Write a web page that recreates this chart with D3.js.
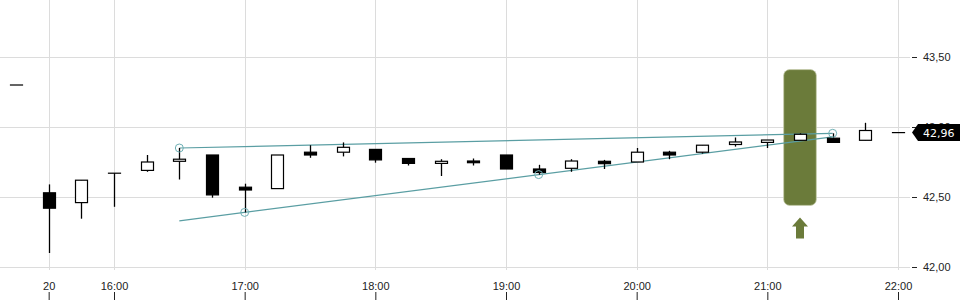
<!DOCTYPE html>
<html>
<head>
<meta charset="utf-8">
<script src="https://cdnjs.cloudflare.com/ajax/libs/d3/7.8.5/d3.min.js"></script>
<style>
  body { margin: 0; background: #fff; }
  svg { display: block; font-family: "DejaVu Sans", sans-serif; }
</style>
</head>
<body>
<svg id="chart"></svg>
<script>
const [w, h] = [960, 300];

// 15-minute candles
const times  = ['15:15','15:30','15:45','16:00','16:15','16:30','16:45','17:00','17:15','17:30','17:45','18:00','18:15','18:30',
                '18:45','19:00','19:15','19:30','19:45','20:00','20:15','20:30','20:45','21:00','21:15','21:30','21:45','22:00'];
const opens  = [43.30, 42.53, 42.46, 42.67, 42.69, 42.755, 42.80, 42.57, 42.56, 42.82, 42.82, 42.84, 42.775, 42.74,
                42.757, 42.80, 42.70, 42.705, 42.755, 42.75, 42.82, 42.82, 42.875, 42.89, 42.905, 42.92, 42.905, 42.96];
const highs  = [43.30, 42.59, 42.62, 42.67, 42.80, 42.85, 42.80, 42.595, 42.80, 42.87, 42.89, 42.84, 42.775, 42.77,
                42.775, 42.80, 42.73, 42.77, 42.765, 42.85, 42.83, 42.87, 42.925, 42.907, 42.955, 42.955, 43.03, 42.96];
const lows   = [43.30, 42.10, 42.345, 42.43, 42.68, 42.625, 42.495, 42.39, 42.56, 42.78, 42.79, 42.745, 42.725, 42.65,
                42.725, 42.70, 42.66, 42.68, 42.70, 42.75, 42.77, 42.81, 42.86, 42.85, 42.905, 42.89, 42.905, 42.96];
const closes = [43.30, 42.42, 42.62, 42.67, 42.75, 42.77, 42.515, 42.55, 42.80, 42.80, 42.855, 42.765, 42.74, 42.755,
                42.745, 42.70, 42.675, 42.757, 42.738, 42.82, 42.80, 42.87, 42.893, 42.907, 42.948, 42.89, 42.975, 42.96];

// trend channel
const upperLine = [['16:30', 42.85], ['21:30', 42.955]];
const lowerLine = [['16:30', 42.33], ['21:30', 42.93]];
const anchors   = [['16:30', 42.85], ['17:00', 42.39], ['19:15', 42.66], ['21:30', 42.955]];

// buy signal
const signalTime = '21:15';
const signalRange = [42.44, 43.41];

// axes
const xTicks = ['15:30','16:00','17:00','18:00','19:00','20:00','21:00','22:00'];
const xTickLabels = ['20','16:00','17:00','18:00','19:00','20:00','21:00','22:00'];
const yTicks = [42.0, 42.5, 43.0, 43.5];
const lastPrice = 42.96;

const parse = d3.timeParse('%H:%M');
const data = times.map((t, i) => ({ t: parse(t), o: opens[i], h: highs[i], l: lows[i], c: closes[i] }));

const xScale = d3.scaleTime().domain([parse('16:00'), parse('22:00')]).range([114, 898]);
const yScale = d3.scaleLinear().domain([42, 43.5]).range([267, 57]);
const step = xScale(parse('16:15')) - xScale(parse('16:00'));
const bw = 12;
const fmt = v => d3.format('.2f')(v).replace('.', ',');

const svg = d3.select('#chart').attr('width', w).attr('height', h);

// grid
svg.append('g').selectAll('line')
    .data(yTicks).enter().append('line')
    .attr('x1', 0).attr('x2', 910)
    .attr('y1', d => Math.round(yScale(d)) + 0.5).attr('y2', d => Math.round(yScale(d)) + 0.5)
    .attr('stroke', '#dcdcdc');
svg.append('g').selectAll('line')
    .data(xTicks).enter().append('line')
    .attr('x1', d => Math.round(xScale(parse(d))) + 0.5).attr('x2', d => Math.round(xScale(parse(d))) + 0.5)
    .attr('y1', 0).attr('y2', 270)
    .attr('stroke', '#dcdcdc');

// signal highlight
const sx = xScale(parse(signalTime));
svg.append('rect')
    .attr('x', sx - step / 2).attr('width', step)
    .attr('y', yScale(signalRange[1])).attr('height', yScale(signalRange[0]) - yScale(signalRange[1]))
    .attr('rx', 6)
    .attr('fill', '#6b7b3a').attr('stroke', '#c8ceae').attr('stroke-width', 0.8);
const ay = yScale(signalRange[0]) + 12;
svg.append('path')
    .attr('d', `M${sx},${ay} l8,9 h-4 v12 h-8 v-12 h-4 z`)
    .attr('fill', '#6b7b3a');

// trend lines
const line = d3.line().x(d => xScale(parse(d[0]))).y(d => yScale(d[1]));
[upperLine, lowerLine].forEach(l => {
    svg.append('path').attr('d', line(l))
        .attr('fill', 'none').attr('stroke', '#5a9ea3').attr('stroke-width', 1.2);
});

// candles
const candles = svg.append('g').selectAll('g')
    .data(data).enter().append('g');
candles.append('line')
    .attr('x1', d => Math.round(xScale(d.t)) + 0.5).attr('x2', d => Math.round(xScale(d.t)) + 0.5)
    .attr('y1', d => yScale(d.h)).attr('y2', d => yScale(d.l))
    .attr('stroke', '#000').attr('stroke-width', 1.3);
candles.append('rect')
    .attr('x', d => Math.round(xScale(d.t)) - bw / 2 + 0.5)
    .attr('width', bw)
    .attr('y', d => yScale(Math.max(d.o, d.c)))
    .attr('height', d => Math.max(0.01, Math.abs(yScale(d.o) - yScale(d.c))))
    .attr('fill', d => d.c < d.o ? '#000' : '#fff')
    .attr('stroke', '#000').attr('stroke-width', 1.2);

svg.append('g').selectAll('circle')
    .data(anchors).enter().append('circle')
    .attr('cx', d => xScale(parse(d[0]))).attr('cy', d => yScale(d[1]))
    .attr('r', 4)
    .attr('fill', 'none').attr('stroke', '#6fb0b5').attr('stroke-width', 1);

// right axis
const yAxis = d3.axisRight(yScale).tickValues(yTicks).tickSize(5).tickPadding(6).tickFormat(fmt);
const gy = svg.append('g').attr('transform', 'translate(912,0)').call(yAxis);
gy.select('.domain').remove();
gy.selectAll('.tick line').attr('stroke', '#222');
gy.selectAll('text').attr('fill', '#222').style('font-size', '11px');

// bottom axis
const xAxis = d3.axisBottom(xScale).tickValues(xTicks.map(parse)).tickSize(8).tickSizeOuter(0)
    .tickFormat((d, i) => xTickLabels[i]);
const gx = svg.append('g').attr('transform', 'translate(0,292)').call(xAxis);
gx.select('.domain').remove();
gx.selectAll('.tick line').attr('stroke', '#222');
gx.selectAll('text').attr('y', -2).attr('dy', 0).attr('fill', '#222').style('font-size', '11px');

// last price tag
const ly = yScale(lastPrice);
svg.append('path')
    .attr('d', `M912,${ly} L918,${ly - 8.5} H960 V${ly + 8.5} H918 Z`)
    .attr('fill', '#000');
svg.append('text')
    .attr('x', 923).attr('y', ly)
    .attr('dy', '0.36em')
    .attr('fill', '#fff').style('font-size', '11px')
    .text(fmt(lastPrice));
</script>
</body>
</html>
